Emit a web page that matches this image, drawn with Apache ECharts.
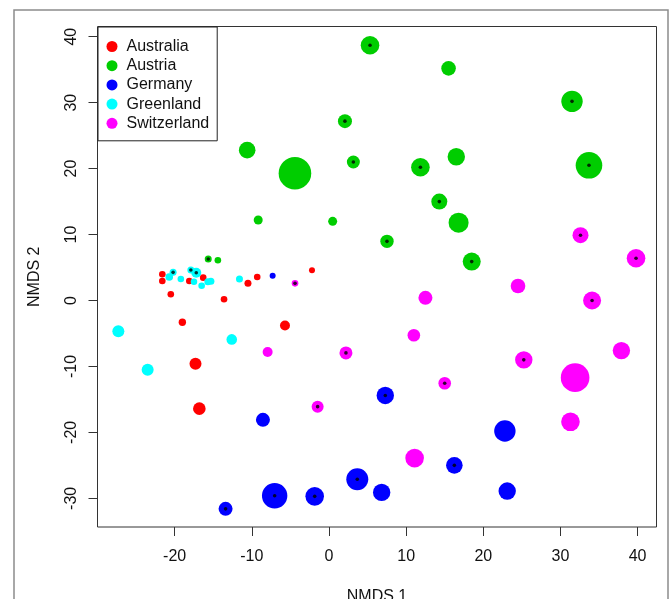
<!DOCTYPE html>
<html>
<head>
<meta charset="utf-8">
<script src="https://cdn.jsdelivr.net/npm/echarts@6/dist/echarts.min.js"></script>
<style>
html,body{margin:0;padding:0;background:#fff;}
#c{width:669px;height:599px;}
</style>
</head>
<body>
<div id="c"></div>
<script>
// ---- data (NMDS scores; w = relative bubble weight; dot = centre marker flag)
var countries = ['Australia', 'Austria', 'Germany', 'Greenland', 'Switzerland'];

var ausX = [-21.6, -21.6, -20.5, -18.1, -16.3, -13.6, -10.5, -9.3, -2.2, -19.0, -5.7, -17.3, -16.8];
var ausY = [3.97, 2.95, 0.94, 2.95, 3.46, 0.18, 2.6, 3.56, 4.57, -3.3, -3.8, -9.6, -16.4];
var ausW = [3.3, 3.3, 3.3, 3.3, 3.3, 3.3, 3.5, 3.3, 3.0, 3.7, 5.0, 6.0, 6.3];
var ausDot = [0, 0, 0, 0, 0, 0, 0, 0, 0, 0, 0, 0, 0];

var autX = [5.32, 15.5, 31.5, 2.07, 3.16, 11.85, 16.5, 33.7, 14.3, 16.8, 0.48, 7.52, 18.5, -10.6, -4.41, -9.17, -15.65, -14.4];
var autY = [38.7, 35.2, 30.2, 27.2, 21.0, 20.2, 21.8, 20.5, 15.0, 11.8, 12.0, 8.97, 5.9, 22.8, 19.3, 12.2, 6.3, 6.1];
var autW = [9.3, 7.3, 10.7, 7.0, 6.5, 9.3, 8.7, 13.3, 8.0, 10.0, 4.5, 6.7, 9.0, 8.3, 16.3, 4.5, 3.5, 3.3];
var autDot = [1, 0, 1, 1, 1, 1, 0, 1, 1, 0, 0, 1, 1, 0, 0, 0, 1, 0];

var gerX = [-7.3, -8.56, -13.4, -7.04, -1.85, 7.3, 22.8, 16.25, 3.67, 6.83, 23.1];
var gerY = [3.76, -18.1, -31.6, -29.6, -29.7, -14.4, -19.8, -25.0, -27.1, -29.1, -28.9];
var gerW = [3.0, 7.0, 7.0, 12.7, 9.3, 8.7, 10.7, 8.3, 11.0, 8.7, 8.7];
var gerDot = [0, 0, 1, 1, 1, 1, 0, 1, 1, 0, 0];

var grlX = [-20.2, -20.7, -19.2, -17.9, -17.2, -17.5, -16.5, -15.7, -15.3, -11.6, -27.3, -12.6, -23.5];
var grlY = [4.27, 3.56, 3.26, 4.62, 4.2, 2.85, 2.24, 2.85, 2.9, 3.26, -4.67, -5.9, -10.5];
var grlW = [3.5, 3.8, 3.3, 3.5, 5.0, 3.3, 3.3, 3.5, 3.5, 3.5, 6.0, 5.3, 6.0];
var grlDot = [1, 0, 0, 1, 1, 0, 0, 0, 0, 0, 0, 0, 0];

var swiX = [-4.4, -7.95, -1.47, 2.2, 11.0, 25.25, 31.9, 37.9, 15.0, 31.3, 11.1, 32.6, 39.8, 24.5, 12.5, 34.1];
var swiY = [2.6, -7.8, -16.1, -7.95, -5.27, -9.0, -11.7, -7.6, -12.55, -18.4, -23.9, 9.9, 6.4, 2.2, 0.4, 0.0];
var swiW = [3.3, 5.0, 6.0, 6.5, 6.3, 8.7, 14.3, 8.7, 6.3, 9.3, 9.3, 8.0, 9.3, 7.3, 7.0, 9.0];
var swiDot = [1, 0, 1, 1, 0, 1, 0, 0, 1, 0, 0, 1, 1, 0, 0, 1];

var xTicks = [-20, -10, 0, 10, 20, 30, 40];
var yTicks = [-30, -20, -10, 0, 10, 20, 30, 40];

// ---- build
var colors = ['#FF0000', '#00CD00', '#0000FF', '#00FFFF', '#FF00FF'];
var groups = [
  [ausX, ausY, ausW, ausDot],
  [autX, autY, autW, autDot],
  [gerX, gerY, gerW, gerDot],
  [grlX, grlY, grlW, grlDot],
  [swiX, swiY, swiW, swiDot]
];
var series = [];
var dots = [];
groups.forEach(function (g, i) {
  var d = g[0].map(function (x, k) { return [x, g[1][k], g[2][k]]; });
  g[0].forEach(function (x, k) { if (g[3][k]) dots.push([x, g[1][k]]); });
  series.push({
    name: countries[i], type: 'scatter', data: d,
    symbol: 'circle',
    symbolSize: function (v) { return v[2] * 2; },
    itemStyle: { color: colors[i], opacity: 1 },
    emphasis: { disabled: true }
  });
});
series.push({
  name: 'centre', type: 'scatter', data: dots, symbol: 'circle', symbolSize: 3.6,
  itemStyle: { color: '#000' }, silent: true, emphasis: { disabled: true }, z: 5
});

var font = 'Liberation Sans, Arial, sans-serif';
var chart = echarts.init(document.getElementById('c'), null, { renderer: 'canvas' });
chart.setOption({
  animation: false,
  backgroundColor: '#fff',
  graphic: [{
    type: 'rect', shape: { x: 14, y: 10, width: 654, height: 620 },
    style: { fill: 'none', stroke: '#8c8c8c', lineWidth: 1.5 }, silent: true, z: 100
  }],
  grid: {
    left: 97.5, right: 12.5, top: 26.5, bottom: 72, show: true,
    borderColor: '#333', borderWidth: 1, backgroundColor: 'transparent',
    containLabel: false, outerBoundsMode: 'none'
  },
  legend: {
    data: countries, orient: 'vertical', left: 98, top: 27,
    icon: 'circle', itemWidth: 11, itemHeight: 11, itemGap: 0.2,
    padding: [10, 8, 8, 8.5], borderColor: '#222', borderWidth: 1, backgroundColor: '#fff',
    textStyle: { fontFamily: font, fontSize: 16, color: '#111', lineHeight: 19, padding: [0, 0, 0, 4] },
    selectedMode: false
  },
  xAxis: {
    type: 'value', min: -30, max: 42.45,
    axisLine: { show: false, onZero: false },
    axisTick: { show: true, inside: false, length: 9, customValues: xTicks, lineStyle: { color: '#333' } },
    axisLabel: { customValues: xTicks, fontFamily: font, fontSize: 16, color: '#111', margin: 22 },
    splitLine: { show: false },
    name: 'NMDS 1', nameLocation: 'middle', nameGap: 62,
    nameTextStyle: { fontFamily: font, fontSize: 16, color: '#111' }
  },
  yAxis: {
    type: 'value', min: -34.35, max: 41.55,
    axisLine: { show: false, onZero: false },
    axisTick: { show: true, inside: false, length: 9, customValues: yTicks, lineStyle: { color: '#333' } },
    axisLabel: { customValues: yTicks, fontFamily: font, fontSize: 16, color: '#111', margin: 18, rotate: 90 },
    splitLine: { show: false },
    name: 'NMDS 2', nameLocation: 'middle', nameGap: 55, nameRotate: 90,
    nameTextStyle: { fontFamily: font, fontSize: 16, color: '#111' }
  },
  series: series
});
</script>
</body>
</html>
